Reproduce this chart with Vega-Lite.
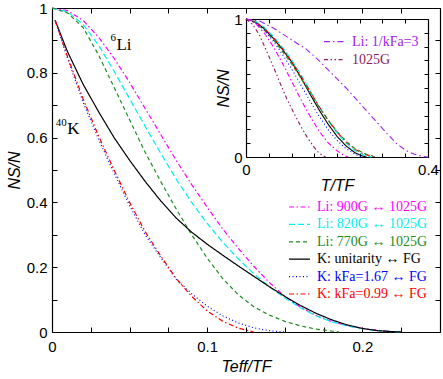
{
  "$schema": "https://vega.github.io/schema/vega-lite/v6.json",
  "width": 388,
  "height": 324,
  "autosize": {"type": "none"},
  "padding": {"left": 52, "top": 8, "right": 3, "bottom": 47},
  "background": "white",
  "config": {
    "view": {"stroke": null},
    "axis": {"grid": false, "labelFont": "Liberation Sans", "labelFontSize": 15, "labelColor": "black", "titleFont": "Liberation Sans", "titleFontStyle": "italic", "titleFontWeight": "normal", "titleFontSize": 16, "titleColor": "black", "domainColor": "black", "tickColor": "black", "labelFlush": false, "labelOverlap": false, "tickSize": -5, "domainWidth": 1.2, "tickWidth": 1}
  },
  "datasets": {
    "main": [
      {"s":"M","t":0,"n":1},{"s":"M","t":0.01,"n":0.992},{"s":"M","t":0.02,"n":0.962},{"s":"M","t":0.03,"n":0.91},{"s":"M","t":0.04,"n":0.845},{"s":"M","t":0.05,"n":0.77},{"s":"M","t":0.06,"n":0.69},{"s":"M","t":0.07,"n":0.61},{"s":"M","t":0.08,"n":0.53},{"s":"M","t":0.09,"n":0.455},{"s":"M","t":0.1,"n":0.385},{"s":"M","t":0.11,"n":0.318},{"s":"M","t":0.12,"n":0.258},{"s":"M","t":0.13,"n":0.203},{"s":"M","t":0.14,"n":0.153},{"s":"M","t":0.15,"n":0.11},{"s":"M","t":0.16,"n":0.077},{"s":"M","t":0.17,"n":0.051},{"s":"M","t":0.18,"n":0.033},{"s":"M","t":0.19,"n":0.02},{"s":"M","t":0.2,"n":0.011},{"s":"M","t":0.21,"n":0.005},{"s":"M","t":0.22,"n":0.001},{"s":"M","t":0.225,"n":0},
      {"s":"C","t":0,"n":1},{"s":"C","t":0.01,"n":0.988},{"s":"C","t":0.02,"n":0.95},{"s":"C","t":0.03,"n":0.885},{"s":"C","t":0.04,"n":0.805},{"s":"C","t":0.05,"n":0.72},{"s":"C","t":0.06,"n":0.635},{"s":"C","t":0.07,"n":0.552},{"s":"C","t":0.08,"n":0.472},{"s":"C","t":0.09,"n":0.4},{"s":"C","t":0.1,"n":0.335},{"s":"C","t":0.11,"n":0.277},{"s":"C","t":0.12,"n":0.226},{"s":"C","t":0.13,"n":0.18},{"s":"C","t":0.14,"n":0.14},{"s":"C","t":0.15,"n":0.105},{"s":"C","t":0.16,"n":0.075},{"s":"C","t":0.17,"n":0.05},{"s":"C","t":0.18,"n":0.032},{"s":"C","t":0.19,"n":0.019},{"s":"C","t":0.2,"n":0.01},{"s":"C","t":0.21,"n":0.004},{"s":"C","t":0.22,"n":0.001},{"s":"C","t":0.225,"n":0},
      {"s":"G","t":0,"n":1},{"s":"G","t":0.01,"n":0.985},{"s":"G","t":0.02,"n":0.94},{"s":"G","t":0.03,"n":0.855},{"s":"G","t":0.04,"n":0.755},{"s":"G","t":0.05,"n":0.655},{"s":"G","t":0.06,"n":0.555},{"s":"G","t":0.07,"n":0.465},{"s":"G","t":0.08,"n":0.38},{"s":"G","t":0.09,"n":0.3},{"s":"G","t":0.1,"n":0.228},{"s":"G","t":0.11,"n":0.165},{"s":"G","t":0.12,"n":0.115},{"s":"G","t":0.13,"n":0.078},{"s":"G","t":0.14,"n":0.052},{"s":"G","t":0.15,"n":0.033},{"s":"G","t":0.16,"n":0.019},{"s":"G","t":0.17,"n":0.009},{"s":"G","t":0.18,"n":0.003},{"s":"G","t":0.185,"n":0},
      {"s":"K","t":0.002,"n":0.962},{"s":"K","t":0.01,"n":0.865},{"s":"K","t":0.02,"n":0.765},{"s":"K","t":0.03,"n":0.68},{"s":"K","t":0.04,"n":0.6},{"s":"K","t":0.05,"n":0.53},{"s":"K","t":0.06,"n":0.465},{"s":"K","t":0.07,"n":0.405},{"s":"K","t":0.08,"n":0.352},{"s":"K","t":0.09,"n":0.308},{"s":"K","t":0.1,"n":0.271},{"s":"K","t":0.11,"n":0.237},{"s":"K","t":0.12,"n":0.204},{"s":"K","t":0.13,"n":0.172},{"s":"K","t":0.14,"n":0.14},{"s":"K","t":0.15,"n":0.11},{"s":"K","t":0.16,"n":0.082},{"s":"K","t":0.17,"n":0.058},{"s":"K","t":0.18,"n":0.038},{"s":"K","t":0.19,"n":0.022},{"s":"K","t":0.2,"n":0.011},{"s":"K","t":0.21,"n":0.004},{"s":"K","t":0.22,"n":0.001},{"s":"K","t":0.225,"n":0},
      {"s":"B","t":0.002,"n":0.962},{"s":"B","t":0.01,"n":0.845},{"s":"B","t":0.02,"n":0.71},{"s":"B","t":0.03,"n":0.595},{"s":"B","t":0.04,"n":0.49},{"s":"B","t":0.05,"n":0.39},{"s":"B","t":0.06,"n":0.3},{"s":"B","t":0.07,"n":0.23},{"s":"B","t":0.08,"n":0.163},{"s":"B","t":0.09,"n":0.118},{"s":"B","t":0.1,"n":0.08},{"s":"B","t":0.11,"n":0.05},{"s":"B","t":0.12,"n":0.028},{"s":"B","t":0.13,"n":0.013},{"s":"B","t":0.14,"n":0.004},{"s":"B","t":0.15,"n":0},
      {"s":"R","t":0.002,"n":0.962},{"s":"R","t":0.01,"n":0.85},{"s":"R","t":0.02,"n":0.72},{"s":"R","t":0.03,"n":0.605},{"s":"R","t":0.04,"n":0.5},{"s":"R","t":0.05,"n":0.4},{"s":"R","t":0.06,"n":0.31},{"s":"R","t":0.07,"n":0.235},{"s":"R","t":0.08,"n":0.165},{"s":"R","t":0.09,"n":0.11},{"s":"R","t":0.1,"n":0.065},{"s":"R","t":0.11,"n":0.033},{"s":"R","t":0.12,"n":0.012},{"s":"R","t":0.13,"n":0}
    ],
    "inset": [
      {"s":"K","t":0,"n":1},{"s":"K","t":0.02,"n":0.98},{"s":"K","t":0.04,"n":0.93},{"s":"K","t":0.06,"n":0.86},{"s":"K","t":0.08,"n":0.78},{"s":"K","t":0.1,"n":0.69},{"s":"K","t":0.12,"n":0.58},{"s":"K","t":0.14,"n":0.46},{"s":"K","t":0.16,"n":0.345},{"s":"K","t":0.18,"n":0.24},{"s":"K","t":0.2,"n":0.15},{"s":"K","t":0.22,"n":0.08},{"s":"K","t":0.24,"n":0.03},{"s":"K","t":0.255,"n":0.008},{"s":"K","t":0.265,"n":0},
      {"s":"C","t":0,"n":1},{"s":"C","t":0.02,"n":0.985},{"s":"C","t":0.04,"n":0.94},{"s":"C","t":0.06,"n":0.875},{"s":"C","t":0.08,"n":0.795},{"s":"C","t":0.1,"n":0.705},{"s":"C","t":0.12,"n":0.6},{"s":"C","t":0.14,"n":0.485},{"s":"C","t":0.16,"n":0.37},{"s":"C","t":0.18,"n":0.265},{"s":"C","t":0.2,"n":0.175},{"s":"C","t":0.22,"n":0.1},{"s":"C","t":0.24,"n":0.045},{"s":"C","t":0.26,"n":0.012},{"s":"C","t":0.275,"n":0},
      {"s":"R","t":0,"n":1},{"s":"R","t":0.02,"n":0.98},{"s":"R","t":0.04,"n":0.935},{"s":"R","t":0.06,"n":0.865},{"s":"R","t":0.08,"n":0.785},{"s":"R","t":0.1,"n":0.695},{"s":"R","t":0.12,"n":0.59},{"s":"R","t":0.14,"n":0.48},{"s":"R","t":0.16,"n":0.37},{"s":"R","t":0.18,"n":0.27},{"s":"R","t":0.2,"n":0.18},{"s":"R","t":0.22,"n":0.11},{"s":"R","t":0.24,"n":0.055},{"s":"R","t":0.26,"n":0.02},{"s":"R","t":0.28,"n":0.003},{"s":"R","t":0.285,"n":0},
      {"s":"G","t":0,"n":1},{"s":"G","t":0.02,"n":0.975},{"s":"G","t":0.04,"n":0.92},{"s":"G","t":0.06,"n":0.85},{"s":"G","t":0.08,"n":0.765},{"s":"G","t":0.1,"n":0.675},{"s":"G","t":0.12,"n":0.575},{"s":"G","t":0.14,"n":0.47},{"s":"G","t":0.16,"n":0.365},{"s":"G","t":0.18,"n":0.27},{"s":"G","t":0.2,"n":0.185},{"s":"G","t":0.22,"n":0.115},{"s":"G","t":0.24,"n":0.06},{"s":"G","t":0.26,"n":0.025},{"s":"G","t":0.28,"n":0.005},{"s":"G","t":0.29,"n":0},
      {"s":"B","t":0,"n":1},{"s":"B","t":0.02,"n":0.975},{"s":"B","t":0.04,"n":0.92},{"s":"B","t":0.06,"n":0.84},{"s":"B","t":0.08,"n":0.745},{"s":"B","t":0.1,"n":0.64},{"s":"B","t":0.12,"n":0.525},{"s":"B","t":0.14,"n":0.41},{"s":"B","t":0.16,"n":0.3},{"s":"B","t":0.18,"n":0.2},{"s":"B","t":0.2,"n":0.12},{"s":"B","t":0.22,"n":0.06},{"s":"B","t":0.24,"n":0.02},{"s":"B","t":0.25,"n":0.006},{"s":"B","t":0.26,"n":0},
      {"s":"M","t":0,"n":1},{"s":"M","t":0.02,"n":0.97},{"s":"M","t":0.04,"n":0.9},{"s":"M","t":0.06,"n":0.8},{"s":"M","t":0.08,"n":0.68},{"s":"M","t":0.1,"n":0.55},{"s":"M","t":0.12,"n":0.42},{"s":"M","t":0.14,"n":0.3},{"s":"M","t":0.16,"n":0.19},{"s":"M","t":0.18,"n":0.105},{"s":"M","t":0.2,"n":0.045},{"s":"M","t":0.215,"n":0.012},{"s":"M","t":0.225,"n":0},
      {"s":"V","t":0,"n":1},{"s":"V","t":0.03,"n":0.985},{"s":"V","t":0.06,"n":0.935},{"s":"V","t":0.1,"n":0.85},{"s":"V","t":0.133,"n":0.78},{"s":"V","t":0.16,"n":0.7},{"s":"V","t":0.19,"n":0.6},{"s":"V","t":0.22,"n":0.5},{"s":"V","t":0.25,"n":0.39},{"s":"V","t":0.28,"n":0.28},{"s":"V","t":0.31,"n":0.17},{"s":"V","t":0.33,"n":0.1},{"s":"V","t":0.35,"n":0.05},{"s":"V","t":0.37,"n":0.02},{"s":"V","t":0.39,"n":0.003},{"s":"V","t":0.4,"n":0},
      {"s":"P","t":0,"n":1},{"s":"P","t":0.015,"n":0.96},{"s":"P","t":0.03,"n":0.88},{"s":"P","t":0.045,"n":0.77},{"s":"P","t":0.06,"n":0.655},{"s":"P","t":0.075,"n":0.535},{"s":"P","t":0.09,"n":0.42},{"s":"P","t":0.105,"n":0.32},{"s":"P","t":0.12,"n":0.225},{"s":"P","t":0.135,"n":0.14},{"s":"P","t":0.15,"n":0.07},{"s":"P","t":0.16,"n":0.03},{"s":"P","t":0.17,"n":0.008},{"s":"P","t":0.175,"n":0}
    ],
    "notes": [
      {"kind":"base","t":0.0415,"n":0.886,"lab":"Li"},
      {"kind":"base","t":0.0098,"n":0.627,"lab":"K"},
      {"kind":"sup","t":0.0412,"n":0.907,"lab":"6"},
      {"kind":"sup","t":0.0095,"n":0.645,"lab":"40"}
    ]
  },
  "layer": [
    {
      "data": {"name": "main"},
      "mark": {"type": "line", "strokeWidth": 1.2},
      "encoding": {
        "x": {"field": "t", "type": "quantitative", "scale": {"domain": [0, 0.25], "nice": false, "zero": false},
          "axis": {"orient": "bottom", "title": "Teff/TF", "values": [0,0.025,0.05,0.075,0.1,0.125,0.15,0.175,0.2,0.225,0.25], "labelExpr": "abs(datum.value*10-round(datum.value*10))<0.001 ? format(datum.value,'~g') : ''", "labelPadding": 12, "titlePadding": 4}},
        "y": {"field": "n", "type": "quantitative", "scale": {"domain": [0, 1], "nice": false},
          "axis": {"orient": "left", "title": "NS/N", "values": [0,0.1,0.2,0.3,0.4,0.5,0.6,0.7,0.8,0.9,1], "labelExpr": "round(datum.value*10)%2==0 ? format(datum.value,'~g') : ''", "labelPadding": 10, "titlePadding": 4}},
        "color": {"field": "s", "type": "nominal",
          "scale": {"domain": ["M","C","G","K","B","R"], "range": ["#ff00ff","#00eeee","#228b22","#000000","#0000ff","#ff0000"]},
          "legend": {"orient": "none", "legendX": 236, "legendY": 192, "title": null, "padding": 0, "symbolType": "stroke", "symbolSize": 441, "symbolStrokeWidth": 1.2, "clipHeight": 14, "rowPadding": 3.4, "labelOffset": 6, "labelFont": "Liberation Serif", "labelFontSize": 14, "labelLimit": 300,
            "labelExpr": "datum.label=='M' ? 'Li: 900G ↔ 1025G' : datum.label=='C' ? 'Li: 820G ↔ 1025G' : datum.label=='G' ? 'Li: 770G ↔ 1025G' : datum.label=='K' ? 'K: unitarity  ↔ FG' : datum.label=='B' ? 'K: kFa=1.67 ↔ FG' : 'K: kFa=0.99 ↔ FG'",
            "encode": {"labels": {"update": {"fill": {"signal": "datum.value=='M' ? '#ff00ff' : datum.value=='C' ? '#00eeee' : datum.value=='G' ? '#228b22' : datum.value=='K' ? '#000000' : datum.value=='B' ? '#0000ff' : '#ff0000'"}}}}}},
        "strokeDash": {"field": "s", "type": "nominal",
          "scale": {"domain": ["M","C","G","K","B","R"], "range": [[5,2.5,1.5,2.5],[6,3],[4,3],[1,0],[1,2.5],[5,2.5,1.5,2.5]]},
          "legend": {"orient": "none", "legendX": 236, "legendY": 192, "title": null, "padding": 0, "symbolType": "stroke", "symbolSize": 441, "symbolStrokeWidth": 1.2, "clipHeight": 14, "rowPadding": 3.4, "labelOffset": 6, "labelFont": "Liberation Serif", "labelFontSize": 14, "labelLimit": 300,
            "labelExpr": "datum.label=='M' ? 'Li: 900G ↔ 1025G' : datum.label=='C' ? 'Li: 820G ↔ 1025G' : datum.label=='G' ? 'Li: 770G ↔ 1025G' : datum.label=='K' ? 'K: unitarity  ↔ FG' : datum.label=='B' ? 'K: kFa=1.67 ↔ FG' : 'K: kFa=0.99 ↔ FG'",
            "encode": {"labels": {"update": {"fill": {"signal": "datum.value=='M' ? '#ff00ff' : datum.value=='C' ? '#00eeee' : datum.value=='G' ? '#228b22' : datum.value=='K' ? '#000000' : datum.value=='B' ? '#0000ff' : '#ff0000'"}}}}}}
      }
    },
    {
      "data": {"name": "main"},
      "mark": {"type": "line", "opacity": 0},
      "encoding": {
        "x": {"field": "t", "type": "quantitative", "scale": {"domain": [0, 0.25], "nice": false, "zero": false},
          "axis": {"orient": "top", "title": null, "labels": false, "values": [0,0.025,0.05,0.075,0.1,0.125,0.15,0.175,0.2,0.225,0.25]}},
        "y": {"field": "n", "type": "quantitative", "scale": {"domain": [0, 1], "nice": false},
          "axis": {"orient": "right", "title": null, "labels": false, "values": [0,0.1,0.2,0.3,0.4,0.5,0.6,0.7,0.8,0.9,1]}}
      }
    },
    {
      "data": {"name": "notes"},
      "transform": [{"filter": "datum.kind == 'base'"}],
      "mark": {"type": "text", "font": "Liberation Serif", "fontSize": 17, "align": "left", "baseline": "middle", "color": "black"},
      "encoding": {
        "x": {"field": "t", "type": "quantitative", "scale": {"domain": [0, 0.25], "nice": false, "zero": false}, "axis": null},
        "y": {"field": "n", "type": "quantitative", "scale": {"domain": [0, 1], "nice": false}, "axis": null},
        "text": {"field": "lab"}
      }
    },
    {
      "data": {"name": "notes"},
      "transform": [{"filter": "datum.kind == 'sup'"}],
      "mark": {"type": "text", "font": "Liberation Serif", "fontSize": 11, "align": "right", "baseline": "middle", "color": "black"},
      "encoding": {
        "x": {"field": "t", "type": "quantitative", "scale": {"domain": [0, 0.25], "nice": false, "zero": false}, "axis": null},
        "y": {"field": "n", "type": "quantitative", "scale": {"domain": [0, 1], "nice": false}, "axis": null},
        "text": {"field": "lab"}
      }
    },
    {
      "data": {"name": "inset"},
      "mark": {"type": "line", "strokeWidth": 1.1},
      "encoding": {
        "x": {"field": "t", "type": "quantitative", "scale": {"domain": [0, 0.4], "range": [194, 376], "nice": false, "zero": false},
          "axis": {"orient": "bottom", "offset": -175, "title": "T/TF", "tickSize": -4, "values": [0,0.05,0.1,0.15,0.2,0.25,0.3,0.35,0.4], "labelExpr": "datum.value==0 || datum.value>0.39 ? format(datum.value,'~g') : ''", "labelPadding": 9, "titlePadding": 0}},
        "y": {"field": "n", "type": "quantitative", "scale": {"domain": [0, 1], "range": [149, 11], "nice": false},
          "axis": {"orient": "left", "offset": -194, "title": "NS/N", "tickSize": -4, "values": [0,0.1,0.2,0.3,0.4,0.5,0.6,0.7,0.8,0.9,1], "labelExpr": "datum.value==0 || datum.value>0.99 ? format(datum.value,'~g') : ''", "labelPadding": 8, "titlePadding": 2}},
        "color": {"field": "s", "type": "nominal",
          "scale": {"domain": ["M","C","G","K","B","R","V","P"], "range": ["#ff00ff","#00eeee","#228b22","#000000","#0000ff","#ff0000","#a020f0","#8b1c62"]},
          "legend": {"values": ["V","P"], "orient": "none", "legendX": 271, "legendY": 26.7, "title": null, "padding": 0, "symbolType": "stroke", "symbolSize": 400, "symbolStrokeWidth": 1.2, "clipHeight": 14, "rowPadding": 4, "labelOffset": 7, "labelFont": "Liberation Serif", "labelFontSize": 14, "labelLimit": 300,
            "labelExpr": "datum.label=='V' ? 'Li: 1/kFa=3' : '1025G'",
            "encode": {"labels": {"update": {"fill": {"signal": "datum.value=='V' ? '#a020f0' : '#8b1c62'"}}}}}},
        "strokeDash": {"field": "s", "type": "nominal",
          "scale": {"domain": ["M","C","G","K","B","R","V","P"], "range": [[5,2.5,1.5,2.5],[6,3],[4,3],[1,0],[1,2.5],[5,2.5,1.5,2.5],[6,3,1.5,3],[4,2.5,1.5,2.5,1.5,2.5]]},
          "legend": {"values": ["V","P"], "orient": "none", "legendX": 271, "legendY": 26.7, "title": null, "padding": 0, "symbolType": "stroke", "symbolSize": 400, "symbolStrokeWidth": 1.2, "clipHeight": 14, "rowPadding": 4, "labelOffset": 7, "labelFont": "Liberation Serif", "labelFontSize": 14, "labelLimit": 300,
            "labelExpr": "datum.label=='V' ? 'Li: 1/kFa=3' : '1025G'",
            "encode": {"labels": {"update": {"fill": {"signal": "datum.value=='V' ? '#a020f0' : '#8b1c62'"}}}}}}
      }
    },
    {
      "data": {"name": "inset"},
      "mark": {"type": "line", "opacity": 0},
      "encoding": {
        "x": {"field": "t", "type": "quantitative", "scale": {"domain": [0, 0.4], "range": [194, 376], "nice": false, "zero": false},
          "axis": {"orient": "top", "offset": -11, "title": null, "labels": false, "tickSize": -4, "values": [0,0.05,0.1,0.15,0.2,0.25,0.3,0.35,0.4]}},
        "y": {"field": "n", "type": "quantitative", "scale": {"domain": [0, 1], "range": [149, 11], "nice": false},
          "axis": {"orient": "right", "offset": -12, "title": null, "labels": false, "tickSize": -4, "values": [0,0.1,0.2,0.3,0.4,0.5,0.6,0.7,0.8,0.9,1]}}
      }
    }
  ],
  "resolve": {
    "scale": {"x": "independent", "y": "independent", "color": "independent", "strokeDash": "independent"},
    "axis": {"x": "independent", "y": "independent"},
    "legend": {"color": "independent", "strokeDash": "independent"}
  }
}
